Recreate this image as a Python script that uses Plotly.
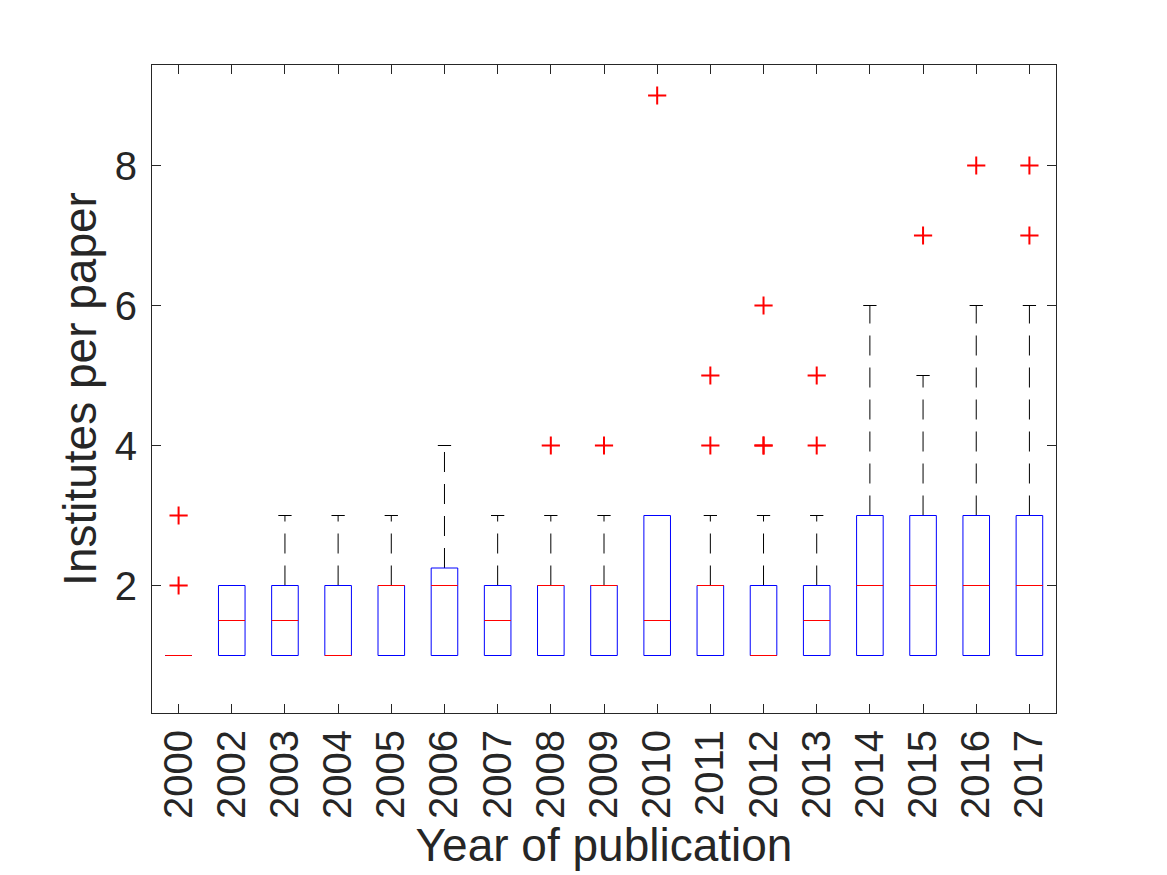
import plotly.graph_objects as go

years = ["2000", "2002", "2003", "2004", "2005", "2006", "2007", "2008", "2009",
         "2010", "2011", "2012", "2013", "2014", "2015", "2016", "2017"]
q1 = [1, 1, 1, 1, 1, 1, 1, 1, 1, 1, 1, 1, 1, 1, 1, 1, 1]
medians = [1, 1.5, 1.5, 1, 2, 2, 1.5, 2, 2, 1.5, 2, 1, 1.5, 2, 2, 2, 2]
q3 = [1, 2, 2, 2, 2, 2.25, 2, 2, 2, 3, 2, 2, 2, 3, 3, 3, 3]
upper_whisker = [1, 2, 3, 3, 3, 4, 3, 3, 3, 3, 3, 3, 3, 6, 5, 6, 6]
lower_whisker = [1, 1, 1, 1, 1, 1, 1, 1, 1, 1, 1, 1, 1, 1, 1, 1, 1]
outliers = [[2, 3], [], [], [], [], [], [], [4], [4], [9], [4, 5], [4, 4, 6],
            [4, 5], [], [7], [8], [7, 8]]

positions = list(range(1, len(years) + 1))
half = 0.25
cap_half = 0.125
axis_color = "#262626"
font_family = "Liberation Sans, Arial, sans-serif"

wx, wy, cx, cy, bx, by, mx, my, ox, oy = [], [], [], [], [], [], [], [], [], []
for i, p in enumerate(positions):
    wx += [p, p, None, p, p, None]
    wy += [q3[i], upper_whisker[i], None, q1[i], lower_whisker[i], None]
    cx += [p - cap_half, p + cap_half, None, p - cap_half, p + cap_half, None]
    cy += [upper_whisker[i], upper_whisker[i], None, lower_whisker[i], lower_whisker[i], None]
    bx += [p - half, p + half, p + half, p - half, p - half, None]
    by += [q1[i], q1[i], q3[i], q3[i], q1[i], None]
    mx += [p - half, p + half, None]
    my += [medians[i], medians[i], None]
    for o in outliers[i]:
        ox.append(p)
        oy.append(o)

fig = go.Figure()
fig.add_trace(go.Scatter(x=wx, y=wy, mode="lines", hoverinfo="skip",
                         line=dict(color="black", width=1, dash="20px,12px")))
fig.add_trace(go.Scatter(x=cx, y=cy, mode="lines", hoverinfo="skip",
                         line=dict(color="black", width=1)))
fig.add_trace(go.Scatter(x=bx, y=by, mode="lines", hoverinfo="skip",
                         line=dict(color="#0000ff", width=1)))
fig.add_trace(go.Scatter(x=mx, y=my, mode="lines", hoverinfo="skip",
                         line=dict(color="#ff0000", width=1)))
fig.add_trace(go.Scatter(x=ox, y=oy, mode="markers",
                         marker=dict(symbol="cross-thin", size=13,
                                     line=dict(color="#ff0000", width=2))))

fig.update_layout(
    width=1167, height=875,
    margin=dict(l=152, r=111, t=65, b=162),
    paper_bgcolor="white", plot_bgcolor="white",
    showlegend=False,
    font=dict(family=font_family, color=axis_color, size=40),
    xaxis=dict(
        range=[0.5, len(years) + 0.5],
        tickmode="array", tickvals=positions, ticktext=years,
        tickangle=-90,
        ticks="inside", ticklen=9, tickcolor=axis_color, tickwidth=1,
        showline=True, linecolor=axis_color, linewidth=1, mirror="ticks",
        showgrid=False, zeroline=False,
        tickfont=dict(size=40),
        title=dict(text="Year of publication", font=dict(size=46), standoff=10),
    ),
    yaxis=dict(
        range=[0.17857, 9.43571],
        tickmode="array", tickvals=[2, 4, 6, 8],
        ticks="inside", ticklen=9, tickcolor=axis_color, tickwidth=1,
        showline=True, linecolor=axis_color, linewidth=1, mirror="ticks",
        showgrid=False, zeroline=False,
        tickfont=dict(size=40),
        ticklabelstandoff=6,
        title=dict(text="Institutes per paper", font=dict(size=46), standoff=3),
    ),
)

fig.write_html("out.html")
